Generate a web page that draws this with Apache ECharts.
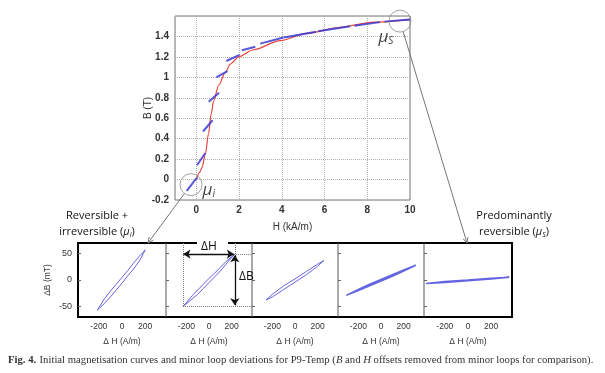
<!DOCTYPE html>
<html><head><meta charset="utf-8">
<script src="https://cdn.jsdelivr.net/npm/echarts@6/dist/echarts.min.js"></script>
<style>html,body{margin:0;padding:0;background:#fff}#c{width:605px;height:373px}</style>
</head><body><div id="c"></div>
<script>
// ---- Data ----
// Initial magnetisation curve (H in kA/m, B in T)
const curveH = [0, 0.15, 0.27, 0.42, 0.57, 0.69, 0.81, 1.04, 1.36, 1.59, 1.98, 2.67, 3.93, 5.17, 6.73, 8.29, 10];
const curveB = [0, 0.07, 0.12, 0.25, 0.45, 0.64, 0.77, 0.92, 1.05, 1.13, 1.20, 1.27, 1.36, 1.43, 1.49, 1.54, 1.565];
// Minor loop segments along the curve (start / end points)
const segStartH = [-0.45, 0.03, 0.31, 0.58, 0.93, 1.40, 2.13, 2.99, 4.10, 5.70, 7.40, 8.80];
const segStartB = [-0.11, 0.14, 0.47, 0.76, 1.00, 1.16, 1.265, 1.33, 1.39, 1.45, 1.505, 1.545];
const segEndH   = [0.03, 0.42, 0.76, 1.06, 1.46, 2.02, 2.76, 4.08, 5.60, 7.20, 8.60, 10.0];
const segEndB   = [0.02, 0.26, 0.58, 0.85, 1.06, 1.22, 1.30, 1.39, 1.445, 1.50, 1.54, 1.565];
// Highlight circles (mu_i, mu_S)
const circleH = [-0.25, 9.53];
const circleB = [-0.05, 1.55];
// Minor loops (dH in A/m, dB in mT)
const loop1 = [[-213,-57],[-150,-44],[-100,-32],[-50,-19],[0,-6],[50,8],[100,21],[150,36],[201,57],[150,45],[100,32],[50,18],[0,5],[-50,-8],[-100,-21],[-150,-35],[-213,-57]];
const loop2 = [[-228,-50],[-150,-36],[-100,-27],[-50,-16],[0,-5],[50,6],[100,17],[150,30],[222,48],[150,35],[100,24],[50,13],[0,3],[-50,-8],[-100,-19],[-150,-30],[-228,-50]];
const loop3 = [[-256,-38],[-200,-32],[-100,-18],[0,-4],[100,10],[200,26],[256,37],[200,30],[100,16],[0,2],[-100,-11],[-200,-27],[-256,-38]];
const loop4 = [[-307,-29],[-200,-20],[-100,-11],[0,-2],[100,7],[200,17],[307,28],[200,19],[100,10],[0,1],[-100,-8],[-200,-18],[-307,-29]];
const loop5 = [[-362,-6.5],[-200,-4.5],[0,-1.5],[200,1.8],[356,5],[200,3.3],[0,0],[-200,-3],[-362,-6.5]];
const loops = [loop1, loop2, loop3, loop4, loop5];
const loopXTicks = [-200, 0, 200];
const loopYTicks = [-50, 0, 50];

// ---- Layout ----
const PANEL_LEFT = [78, 166, 252, 338, 424];
const PANEL_W = [88, 86, 86, 86, 88];
const PANEL_TOP = 243, PANEL_H = 74;
const LOOP_WIDTH = [1, 1, 1, 1.5, 1.5];
const SANS = 'Liberation Sans, Arial, sans-serif';
const CAL = 'Open Sans, Lato, sans-serif';

const chart = echarts.init(document.getElementById('c'));

const grids = [{left:175, top:16, width:235, height:184, show:true, borderColor:'#777', borderWidth:1}];
const xAxes = [{
  type:'value', gridIndex:0, min:-1, max:10, splitNumber:5,
  axisLine:{show:false, onZero:false}, axisTick:{show:false},
  axisLabel:{showMinLabel:false, fontSize:10, fontWeight:'bold', color:'#333', fontFamily:SANS, margin:5},
  splitLine:{show:true, lineStyle:{type:'dotted', color:'#b0b0b0'}},
  name:'H (kA/m)', nameLocation:'middle', nameGap:22, nameMoveOverlap:false,
  nameTextStyle:{fontSize:10, color:'#333', fontFamily:SANS}
}];
const yAxes = [{
  type:'value', gridIndex:0, min:-0.2, max:1.6, interval:0.2,
  axisLine:{show:false, onZero:false}, axisTick:{show:false},
  axisLabel:{showMaxLabel:false, fontSize:10, fontWeight:'bold', color:'#333', fontFamily:SANS, margin:6,
    formatter: v => String(Math.round(v*10)/10)},
  splitLine:{show:true, lineStyle:{type:'dotted', color:'#b0b0b0'}},
  name:'B (T)', nameLocation:'middle', nameGap:22, nameRotate:90, nameMoveOverlap:false,
  nameTextStyle:{fontSize:10, color:'#333', fontFamily:SANS}
}];
for (let i = 0; i < 5; i++) {
  grids.push({left:PANEL_LEFT[i], top:PANEL_TOP, width:PANEL_W[i], height:PANEL_H});
  xAxes.push({
    type:'value', gridIndex:i+1, min:-380, max:380,
    axisLine:{show:false, onZero:false}, axisTick:{show:false}, splitLine:{show:false},
    axisLabel:{customValues:loopXTicks, fontSize:8.5, color:'#333', fontFamily:SANS, margin:5},
    name:'Δ H (A/m)', nameLocation:'middle', nameGap:20, nameMoveOverlap:false,
    nameTextStyle:{fontSize:8.5, color:'#333', fontFamily:SANS}
  });
  yAxes.push({
    type:'value', gridIndex:i+1, min:-70, max:70,
    axisLine:{show:false, onZero:false}, splitLine:{show:false},
    axisTick:{show:true, inside:true, length:3, customValues:loopYTicks, lineStyle:{color:'#666'}},
    axisLabel:{show:i===0, customValues:loopYTicks, fontSize:9, color:'#333', fontFamily:SANS, margin:6},
    name: i===0 ? 'ΔB (mT)' : '', nameLocation:'middle', nameGap:26, nameRotate:90, nameMoveOverlap:false,
    nameTextStyle:{fontSize:8.5, color:'#333', fontFamily:SANS}
  });
}

const series = [
  {type:'line', xAxisIndex:0, yAxisIndex:0, data:curveH.map((h,i)=>[h,curveB[i]]),
   showSymbol:false, smooth:0.3, smoothMonotone:'x', lineStyle:{color:'#e8453c', width:1.2}, z:3},
  {type:'lines', coordinateSystem:'cartesian2d', xAxisIndex:0, yAxisIndex:0,
   data:segStartH.map((h,i)=>({coords:[[h,segStartB[i]],[segEndH[i],segEndB[i]]]})),
   lineStyle:{color:'#3a3ad2', width:2, opacity:0.85}, z:4},
  {type:'scatter', xAxisIndex:0, yAxisIndex:0, symbolSize:22, silent:true,
   itemStyle:{color:'rgba(0,0,0,0)', borderColor:'#8a8a8a', borderWidth:1}, z:5,
   data:[
     {value:[circleH[0],circleB[0]], label:{show:true, position:'right', distance:0, offset:[0,5],
       formatter:'{m|μ}{s|i}'}},
     {value:[circleH[1],circleB[1]], label:{show:true, position:[-10,18], align:'left', verticalAlign:'top',
       formatter:'{m|μ}{s|S}'}}
   ],
   label:{rich:{m:{fontSize:17, fontStyle:'italic', fontFamily:CAL, color:'#111'},
                s:{fontSize:10, fontStyle:'italic', fontFamily:CAL, color:'#111', padding:[9,0,0,0]}}}}
];
loops.forEach((lp, i) => {
  const s = {type:'line', xAxisIndex:i+1, yAxisIndex:i+1, data:lp, showSymbol:false,
    lineStyle:{color:'#6464e0', width:LOOP_WIDTH[i]}, z:3};
  if (i === 1) {
    const dot = {type:'dotted', color:'#777', width:1};
    const arr = {type:'solid', color:'#111', width:1.3};
    s.markLine = {silent:true, animation:false, symbol:['none','none'], symbolSize:7, label:{show:false},
      data:[
        [{coord:[-230,70], lineStyle:dot},{coord:[-230,-50]}],
        [{coord:[-230,-50], lineStyle:dot},{coord:[380,-50]}],
        [{coord:[222,49], lineStyle:dot},{coord:[380,49]}],
        [{coord:[228,70], lineStyle:dot},{coord:[228,49]}],
        [{coord:[-226,49], lineStyle:arr, symbol:'arrow'},{coord:[220,49], symbol:'arrow'}],
        [{coord:[228,47], lineStyle:arr, symbol:'arrow'},{coord:[228,-48], symbol:'arrow'}]
      ]};
  }
  series.push(s);
});

chart.setOption({animation:false, grid:grids, xAxis:xAxes, yAxis:yAxes, series:series});

// ---- Annotations (positions from chart scales / layout) ----
function arrowLine(x1,y1,x2,y2,color){
  const a = Math.atan2(y2-y1, x2-x1), L = 6, w = 0.45;
  return [
    {type:'line', shape:{x1,y1,x2,y2}, style:{stroke:color, lineWidth:1}, silent:true},
    {type:'polyline', shape:{points:[[x2-L*Math.cos(a-w), y2-L*Math.sin(a-w)],[x2,y2],[x2-L*Math.cos(a+w), y2-L*Math.sin(a+w)]]},
     style:{stroke:color, lineWidth:1, fill:null}, silent:true}
  ];
}
const R = 11;
const p1 = chart.convertToPixel({gridIndex:0}, [circleH[0], circleB[0]]);
const p2 = chart.convertToPixel({gridIndex:0}, [circleH[1], circleB[1]]);
function fromEdge(p, t){ const dx=t[0]-p[0], dy=t[1]-p[1], n=Math.hypot(dx,dy); return [p[0]+R*dx/n, p[1]+R*dy/n]; }
const t1 = [148, PANEL_TOP], t2 = [467, PANEL_TOP];
const e1 = fromEdge(p1, t1), e2 = fromEdge(p2, t2);

const right = PANEL_LEFT[4] + PANEL_W[4], bottom = PANEL_TOP + PANEL_H;
const dH = chart.convertToPixel({gridIndex:2}, [0, 63]);
const dB = chart.convertToPixel({gridIndex:2}, [330, 6]);
const graphic = [
  {type:'polyline', shape:{points:[[197,PANEL_TOP],[PANEL_LEFT[0],PANEL_TOP],[PANEL_LEFT[0],bottom],[right,bottom],[right,PANEL_TOP],[228,PANEL_TOP]]},
   style:{stroke:'#000', lineWidth:2, fill:null}, silent:true}
];
for (let i = 1; i < 5; i++) {
  graphic.push({type:'line', shape:{x1:PANEL_LEFT[i], y1:PANEL_TOP, x2:PANEL_LEFT[i], y2:bottom},
    style:{stroke:'#555', lineWidth:1}, silent:true});
}
graphic.push(...arrowLine(e1[0],e1[1],t1[0],t1[1],'#777'));
graphic.push(...arrowLine(e2[0],e2[1],t2[0],t2[1],'#777'));
graphic.push(
  {type:'text', x:dH[0], y:dH[1], style:{text:'ΔH', fontSize:12, fontFamily:CAL, fill:'#111', align:'center', verticalAlign:'middle'}, silent:true},
  {type:'text', x:dB[0], y:dB[1], style:{text:'ΔB', fontSize:12, fontFamily:CAL, fill:'#111', align:'center', verticalAlign:'middle'}, silent:true},
  {type:'text', x:97, y:216, style:{text:'Reversible +', fontSize:11, fontFamily:CAL, fill:'#111', align:'center', verticalAlign:'middle'}, silent:true},
  {type:'text', x:97, y:232, style:{text:'{n|irreversible (}{m|μ}{s|i}{n|)}', align:'center', verticalAlign:'middle',
    rich:{n:{fontSize:11, fontFamily:CAL, fill:'#111'}, m:{fontSize:11, fontStyle:'italic', fontFamily:CAL, fill:'#111'},
          s:{fontSize:7, fontStyle:'italic', fontFamily:CAL, fill:'#111', padding:[5,0,0,0]}}}, silent:true},
  {type:'text', x:514, y:216, style:{text:'Predominantly', fontSize:11, fontFamily:CAL, fill:'#111', align:'center', verticalAlign:'middle'}, silent:true},
  {type:'text', x:514, y:232, style:{text:'{n|reversible (}{m|μ}{s|S}{n|)}', align:'center', verticalAlign:'middle',
    rich:{n:{fontSize:11, fontFamily:CAL, fill:'#111'}, m:{fontSize:11, fontStyle:'italic', fontFamily:CAL, fill:'#111'},
          s:{fontSize:7, fontStyle:'italic', fontFamily:CAL, fill:'#111', padding:[5,0,0,0]}}}, silent:true},
  {type:'text', x:8, y:360, style:{
    text:'{b|Fig. 4.} {n|Initial magnetisation curves and minor loop deviations for P9-Temp (}{i|B}{n| and }{i|H}{n| offsets removed from minor loops for comparison).}',
    verticalAlign:'middle', align:'left',
    rich:{b:{fontSize:10.7, fontWeight:'bold', fontFamily:'Liberation Serif, serif', fill:'#333'},
          n:{fontSize:10.7, fontFamily:'Liberation Serif, serif', fill:'#333'},
          i:{fontSize:10.7, fontStyle:'italic', fontFamily:'Liberation Serif, serif', fill:'#333'}}}, silent:true}
);
chart.setOption({graphic:graphic});
</script></body></html>
